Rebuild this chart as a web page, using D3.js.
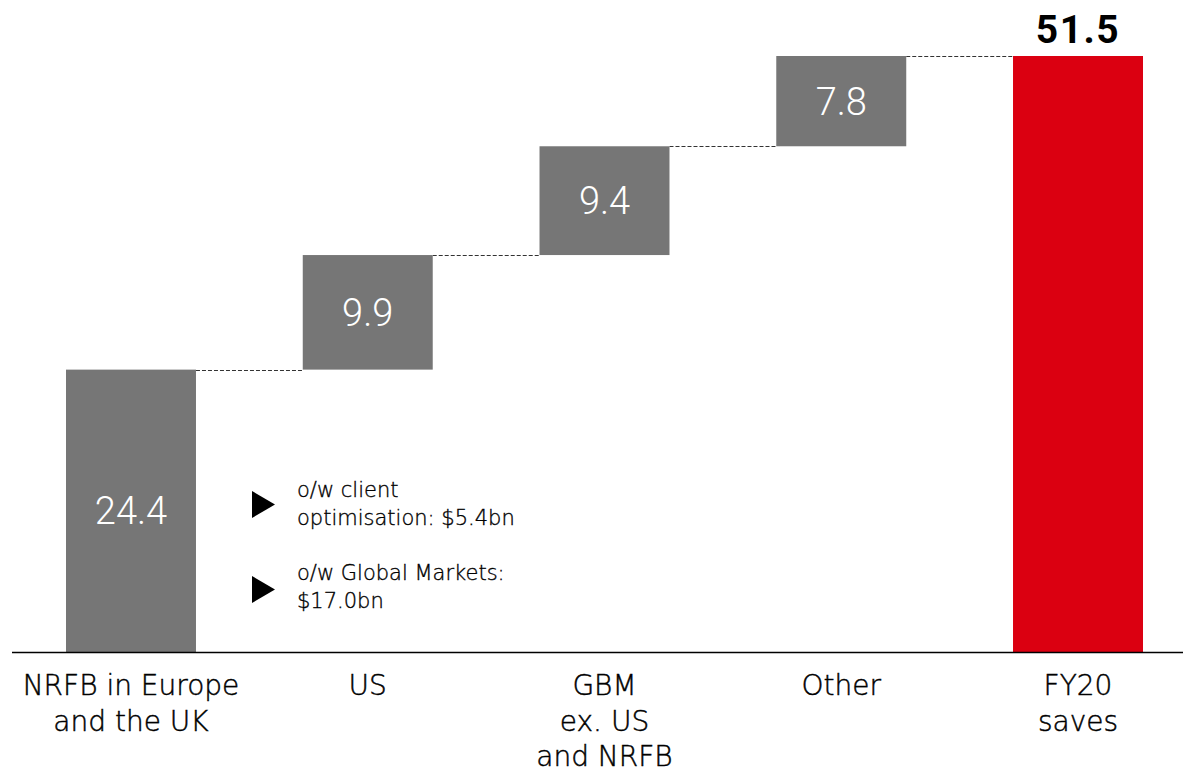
<!DOCTYPE html>
<html>
<head>
<meta charset="utf-8">
<script src="https://cdn.jsdelivr.net/npm/d3@7"></script>
<style>
  html, body { margin: 0; padding: 0; background: #fff; }
  svg { display: block; }
  text { font-family: "DejaVu Sans", sans-serif; }
  .num { font-family: Roboto, "Liberation Sans", sans-serif; }
  .lite { stroke: #000; stroke-width: 0.45px; }
</style>
</head>
<body>
<svg id="chart" width="1183" height="772"></svg>
<script>
// Savings build-up to the FY20 total ($bn)
const categories = ["NRFB in Europe\nand the UK", "US", "GBM\nex. US\nand NRFB", "Other", "FY20\nsaves"];
const values = [24.4, 9.9, 9.4, 7.8, 51.5];
const isTotal = [false, false, false, false, true];
const notes = [
  ["o/w client", "optimisation: $5.4bn"],
  ["o/w Global Markets:", "$17.0bn"]
];

const svg = d3.select("#chart");
const baseY = 652;

const x = d3.scaleBand()
  .domain(categories)
  .range([66, 1143])
  .paddingInner(0.451)
  .paddingOuter(0);

const y = d3.scaleLinear()
  .domain([0, 51.5])
  .range([baseY, 56]);

// running start/end of each step
let run = 0;
const bars = categories.map((c, i) => {
  let start, end;
  if (isTotal[i]) { start = 0; end = values[i]; }
  else { start = run; end = run + values[i]; run = end; }
  return { c, v: values[i], start, end, total: isTotal[i] };
});

// dashed connectors between consecutive steps
const links = bars.slice(0, -1).map((b, i) => ({ from: b, to: bars[i + 1] }));
svg.append("g").selectAll("line")
  .data(links)
  .join("line")
  .attr("x1", d => x(d.from.c) + x.bandwidth())
  .attr("x2", d => x(d.to.c))
  .attr("y1", d => Math.round(y(d.from.end)) + 0.5)
  .attr("y2", d => Math.round(y(d.from.end)) + 0.5)
  .attr("stroke", "#333")
  .attr("stroke-width", 1)
  .attr("stroke-dasharray", "4,2");

// bars
svg.append("g").selectAll("rect")
  .data(bars)
  .join("rect")
  .attr("x", d => x(d.c))
  .attr("width", x.bandwidth())
  .attr("y", d => y(d.end))
  .attr("height", d => y(d.start) - y(d.end))
  .attr("fill", d => d.total ? "#DB0011" : "#767676");

// value labels inside the step bars
svg.append("g").selectAll("text")
  .data(bars.filter(d => !d.total))
  .join("text")
  .attr("class", "num")
  .attr("x", d => x(d.c) + x.bandwidth() / 2)
  .attr("y", d => (y(d.start) + y(d.end)) / 2)
  .attr("dy", "0.36em")
  .attr("text-anchor", "middle")
  .attr("fill", "#fff")
  .attr("font-size", 38)
  .attr("font-weight", 300)
  .text(d => d.v.toFixed(1));

// total label above the red bar
svg.append("g").selectAll("text")
  .data(bars.filter(d => d.total))
  .join("text")
  .attr("class", "num")
  .attr("x", d => x(d.c) + x.bandwidth() / 2)
  .attr("y", d => y(d.end) - 13)
  .attr("text-anchor", "middle")
  .attr("fill", "#000")
  .attr("font-size", 39)
  .attr("font-weight", 700)
  .attr("letter-spacing", 1.5)
  .text(d => d.v.toFixed(1));

// baseline
svg.append("line")
  .attr("x1", 12).attr("x2", 1183)
  .attr("y1", baseY + 0.5).attr("y2", baseY + 0.5)
  .attr("stroke", "#000")
  .attr("stroke-width", 1.5);

// category labels (multi-line)
const catG = svg.append("g").selectAll("text")
  .data(categories)
  .join("text")
  .attr("class", "lite")
  .attr("x", d => x(d) + x.bandwidth() / 2)
  .attr("y", 695)
  .attr("text-anchor", "middle")
  .attr("fill", "#000")
  .attr("font-size", 28)
  .attr("font-weight", 300);
catG.each(function(d) {
  const t = d3.select(this);
  const cx = x(d) + x.bandwidth() / 2;
  d.split("\n").forEach((line, i) => {
    t.append("tspan").attr("x", cx).attr("dy", i === 0 ? 0 : 35.5).text(line);
  });
});

// breakdown notes beside the first bar
const noteTops = [497, 580];
const noteG = svg.append("g").selectAll("g")
  .data(notes)
  .join("g")
  .attr("transform", (d, i) => `translate(0,${noteTops[i]})`);
noteG.append("path")
  .attr("d", (d, i) => i === 0 ? "M252,-6 L275,7.5 L252,21 Z" : "M252,-4 L275,9.5 L252,23 Z")
  .attr("fill", "#000");
noteG.append("text")
  .attr("class", "lite")
  .attr("x", 297)
  .attr("y", 0)
  .attr("fill", "#000")
  .attr("font-size", 21)
  .attr("font-weight", 300)
  .style("stroke-width", "0.35px")
  .each(function(d) {
    const t = d3.select(this);
    d.forEach((line, i) => {
      t.append("tspan").attr("x", 297).attr("dy", i === 0 ? 0 : 27.5).text(line);
    });
  });
</script>
</body>
</html>
